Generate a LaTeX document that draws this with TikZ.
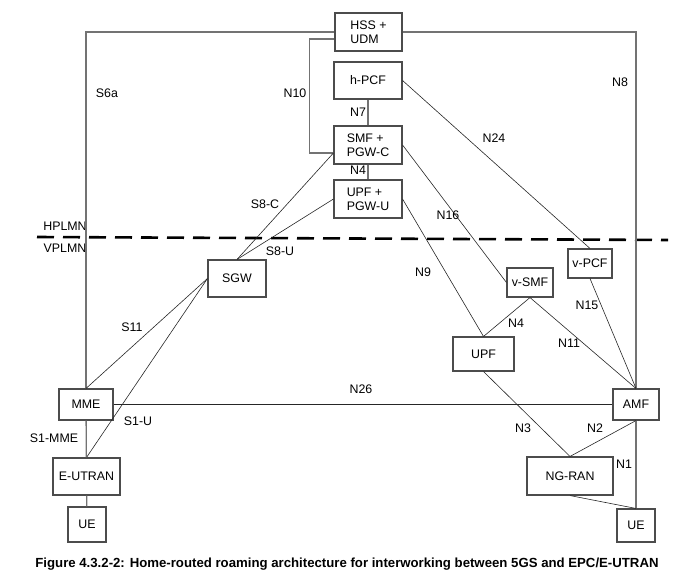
\documentclass[tikz,border=0pt]{standalone}
\usepackage{fontspec}
\setmainfont{Liberation Sans}
\usetikzlibrary{calc}

\begin{document}
\begin{tikzpicture}[
    x=1pt, y=-1pt,
    font=\fontsize{12.4}{14}\selectfont,
    nf/.style={rectangle, draw=black!70, line width=1.1pt, fill=white, align=left, inner sep=1pt},
    link/.style={draw=black!85, line width=0.6pt},
    trunk/.style={draw=black!55, line width=1.3pt},
    lbl/.style={inner sep=0pt}
]
\useasboundingbox (0,0) rectangle (696,576);

% Home network
\node[nf, minimum width=67pt, minimum height=38pt] (hss) at (368.5,32) {HSS +\\UDM};
\node[nf, minimum width=68pt, minimum height=37pt] (hpcf) at (368,80.5) {h-PCF};
\node[nf, minimum width=68pt, minimum height=38pt] (smf) at (368,145) {SMF +\\PGW-C};
\node[nf, minimum width=68pt, minimum height=38pt] (upfh) at (368,199) {UPF +\\PGW-U};

% Visited network
\node[nf, minimum width=58pt, minimum height=37pt] (sgw) at (237,278.5) {SGW};
\node[nf, minimum width=46pt, minimum height=29pt] (vsmf) at (530,282.5) {v-SMF};
\node[nf, minimum width=44pt, minimum height=29pt] (vpcf) at (590,263.5) {v-PCF};
\node[nf, minimum width=61pt, minimum height=34pt] (upf) at (483.5,354) {UPF};
\node[nf, minimum width=54pt, minimum height=31pt] (mme) at (86,404.5) {MME};
\node[nf, minimum width=46pt, minimum height=31pt] (amf) at (636,404.5) {AMF};
\node[nf, minimum width=67pt, minimum height=37pt] (eutran) at (86.5,476.5) {E-UTRAN};
\node[nf, minimum width=86pt, minimum height=38pt] (ngran) at (570,476) {NG-RAN};
\node[nf, minimum width=38pt, minimum height=35pt] (uel) at (87,524.5) {UE};
\node[nf, minimum width=38pt, minimum height=33pt] (uer) at (636,525.5) {UE};

% PLMN border
\coordinate (bl) at (37,237);
\coordinate (br) at (668,240);
\draw[black, line width=2.6pt, dash pattern=on 17pt off 9pt] (bl) -- (br);
\node[lbl] (hplmn) at (65,226) {HPLMN};
\node[lbl] (vplmn) at (65,248) {VPLMN};

% Connections
\draw[trunk] (hss.west) -| (mme.north);
\draw[trunk] (hss.east) -| (amf.north);
\draw[trunk] ([yshift=-7pt]hss.west) -- ++(-25,0) |- ([yshift=-8pt]smf.west);
\draw[trunk] (hpcf) -- (smf);
\draw[trunk] (smf) -- (upfh);
\draw[link] ([yshift=-8pt]smf.west) -- (sgw.north);
\draw[link] (upfh.west) -- (sgw.north);
\draw[link] (hpcf.east) -- (vpcf.north);
\draw[link] (smf.east) -- (vsmf.west);
\draw[link] (upfh.east) -- (upf.north);
\draw[link] (vpcf.south) -- (amf.north);
\draw[link] (vsmf.south) -- (upf.north);
\draw[link] (vsmf.south) -- (amf.north);
\draw[link] (mme.east) -- (amf.west);
\draw[link] (mme.north) -- (sgw.west);
\draw[link] (eutran.north) -- (sgw.west);
\draw[trunk] (mme) -- (eutran);
\draw[trunk] (eutran) -- (uel);
\draw[link] (amf.south) -- (ngran.north);
\draw[trunk] (amf.south) -- (uer.north);
\draw[link] (upf.south) -- (ngran.north);
\draw[link] (ngran.south) -- (uer.north);

% Interface labels
\node[lbl] (lS6a) at (107,93) {S6a};
\node[lbl] (lN8) at (620,82) {N8};
\node[lbl] (lN10) at (295,93) {N10};
\node[lbl] (lN7) at (358,112) {N7};
\node[lbl] (lN4h) at (358,170) {N4};
\node[lbl] (lS8C) at (265,204) {S8-C};
\node[lbl] (lS8U) at (280,251) {S8-U};
\node[lbl] (lN24) at (494,138) {N24};
\node[lbl] (lN16) at (448,215) {N16};
\node[lbl] (lN9) at (423,272) {N9};
\node[lbl] (lN15) at (587,305) {N15};
\node[lbl] (lN4v) at (516,323) {N4};
\node[lbl] (lN11) at (569,343) {N11};
\node[lbl] (lN26) at (361,389) {N26};
\node[lbl] (lS11) at (132,327) {S11};
\node[lbl] (lS1U) at (138,421) {S1-U};
\node[lbl] (lS1MME) at (54,438) {S1-MME};
\node[lbl] (lN3) at (523,428) {N3};
\node[lbl] (lN2) at (595,428) {N2};
\node[lbl] (lN1) at (624,464) {N1};

% Caption
\node[lbl, font=\fontsize{13.2}{15}\selectfont\bfseries] (caption) at (347,564) {Figure 4.3.2-2: Home-routed roaming architecture for interworking between 5GS and EPC/E-UTRAN};

\end{tikzpicture}
\end{document}
